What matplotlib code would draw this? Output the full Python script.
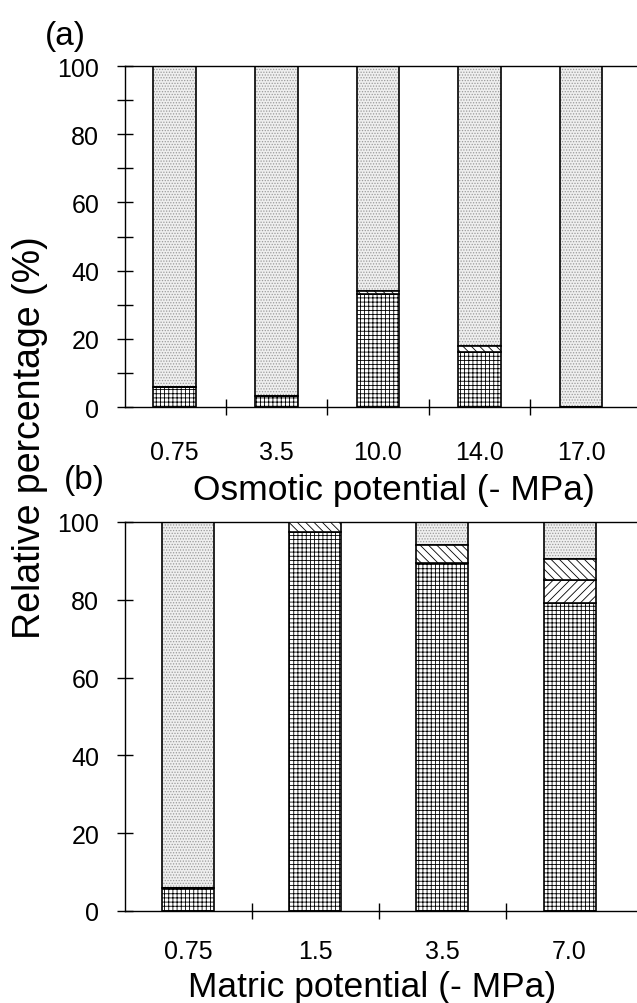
import matplotlib
matplotlib.use('Agg')
import matplotlib.pyplot as plt
import numpy as np

plt.rcParams['font.family'] = ['Liberation Sans', 'DejaVu Sans']
plt.rcParams['hatch.linewidth'] = 0.6

# (a) osmotic potential
osm_labels = ['0.75', '3.5', '10.0', '14.0', '17.0']
osm_grid = [6, 3.3, 33, 16, 0]
osm_fwd = [0, 0, 0, 0, 0]
osm_back = [0, 0, 1, 2, 0]

# (b) matric potential
mat_labels = ['0.75', '1.5', '3.5', '7.0']
mat_grid = [6, 97.5, 89.5, 79.2]
mat_fwd = [0, 0, 0, 6]
mat_back = [0, 2.5, 4.5, 5.3]

W, H = 637, 1004
fig = plt.figure(figsize=(W / 100, H / 100), dpi=100)

def px(x0, y0, x1, y1):
    # pixel box -> figure fraction
    return [x0 / W, 1 - y1 / H, (x1 - x0) / W, (y1 - y0) / H]

def draw_panel(ax, labels, grid, fwd, back, width, minor_y, lab_pad):
    x = np.arange(len(labels))
    grid = np.array(grid, float)
    fwd = np.array(fwd, float)
    back = np.array(back, float)
    stip = 100 - grid - fwd - back
    b1 = grid
    b2 = grid + fwd
    b3 = grid + fwd + back
    # stipple: grey dots then outline
    ax.bar(x, stip, width, bottom=b3, color='#efefef', edgecolor='#9a9a9a',
           hatch='......', linewidth=0, zorder=2)
    ax.bar(x, stip, width, bottom=b3, fill=False, edgecolor='black',
           linewidth=1.2, zorder=3)
    ax.bar(x, grid, width, color='white', edgecolor='black', hatch='++++',
           linewidth=1.2, zorder=3)
    ax.bar(x, fwd, width, bottom=b1, color='white', edgecolor='black',
           hatch='////', linewidth=1.2, zorder=3)
    ax.bar(x, back, width, bottom=b2, color='white', edgecolor='black',
           hatch='\\\\\\\\', linewidth=1.2, zorder=3)

    ax.set_ylim(0, 100)
    ax.set_yticks(np.arange(0, 101, 20))
    if minor_y:
        ax.set_yticks(np.arange(10, 100, 20), minor=True)
    ax.tick_params(axis='y', which='both', direction='inout', length=11,
                   width=1, labelsize=18, pad=13)
    ax.set_xticks(x[:-1] + 0.5)
    ax.set_xticklabels([])
    ax.set_xticks(x, minor=True)
    ax.set_xticklabels(labels, minor=True)
    ax.tick_params(axis='x', which='major', direction='inout', length=12,
                   width=1)
    ax.tick_params(axis='x', which='minor', length=0, labelsize=18,
                   pad=lab_pad)
    ax.spines['right'].set_visible(False)
    for s in ['left', 'top', 'bottom']:
        ax.spines[s].set_linewidth(1)

# panel (a)
ax1 = fig.add_axes(px(125, 67, 637, 408))
draw_panel(ax1, osm_labels, osm_grid, osm_fwd, osm_back, 0.42, True, 24)
ax1.set_xlim(-0.49, 4.55)

# panel (b)
ax2 = fig.add_axes(px(125, 523, 637, 912))
draw_panel(ax2, mat_labels, mat_grid, mat_fwd, mat_back, 0.41, False, 20)
ax2.set_xlim(-0.495, 3.53)

fig.text(394 / W, 1 - 500 / H, 'Osmotic potential (- MPa)', fontsize=25.5,
         ha='center', va='baseline')
fig.text(372 / W, 1 - 997 / H, 'Matric potential (- MPa)', fontsize=25.5,
         ha='center', va='baseline')
fig.text(30 / W, 1 - 438 / H, 'Relative percentage (%)', fontsize=27,
         rotation=90, ha='center', va='center')
fig.text(65 / W, 1 - 36 / H, '(a)', fontsize=24, ha='center', va='center')
fig.text(84 / W, 1 - 480 / H, '(b)', fontsize=24, ha='center', va='center')

fig.savefig('out.png', dpi=100)
